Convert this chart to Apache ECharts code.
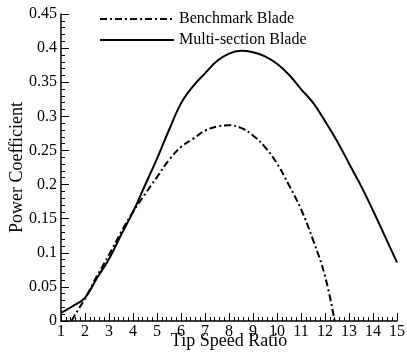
<!DOCTYPE html>
<html>
<head>
<meta charset="utf-8">
<script src="https://cdn.jsdelivr.net/npm/echarts@6/dist/echarts.min.js"></script>
<style>html,body{margin:0;padding:0;background:#fff}#c{width:407px;height:358px}</style>
</head>
<body>
<div id="c"></div>
<script>
var multiX = [1.0,1.5,2.0,2.5,3.0,3.5,4.0,4.5,5.0,5.5,6.0,6.5,7.0,7.5,8.0,8.5,9.0,9.5,10.0,10.5,11.0,11.5,12.0,12.5,13.0,13.5,14.0,14.5,15.0];
var multiY = [0.012,0.022,0.034,0.063,0.091,0.126,0.160,0.199,0.238,0.280,0.319,0.344,0.363,0.381,0.392,0.396,0.394,0.388,0.377,0.361,0.340,0.320,0.293,0.264,0.231,0.198,0.162,0.124,0.086];
var benchX = [1.45,1.5,2.0,2.5,3.0,3.5,4.0,4.5,5.0,5.5,6.0,6.5,7.0,7.5,8.0,8.5,9.0,9.5,10.0,10.5,11.0,11.5,12.0,12.4];
var benchY = [0.0,0.004,0.033,0.066,0.097,0.130,0.160,0.186,0.211,0.236,0.255,0.267,0.279,0.285,0.287,0.283,0.272,0.255,0.231,0.199,0.164,0.119,0.066,0.0];
var seriesNames = ['Benchmark Blade','Multi-section Blade'];
var xName = 'Tip Speed Ratio';
var yName = 'Power Coefficient';

function pairs(xs, ys){ return xs.map(function(x,i){ return [x, ys[i]]; }); }
var font = 'Liberation Serif';
var chart = echarts.init(document.getElementById('c'));
chart.setOption({
  animation: false,
  backgroundColor: '#fff',
  grid: {left: 61, right: 10, top: 14, bottom: 37, containLabel: false, outerBoundsMode: 'none'},
  legend: {
    orient: 'vertical', left: 94, top: 6, itemWidth: 74, itemHeight: 12, itemGap: 5,
    itemStyle: {opacity: 0},
    textStyle: {fontFamily: font, fontSize: 16, color: '#000'},
    data: seriesNames
  },
  xAxis: {
    type: 'value', min: 1, max: 15, interval: 1,
    name: xName, nameLocation: 'middle', nameGap: 11, nameMoveOverlap: false,
    nameTextStyle: {fontFamily: font, fontSize: 18, color: '#000', verticalAlign: 'top'},
    axisLine: {lineStyle: {color: '#000', width: 1.5}},
    axisTick: {inside: true, length: 8, lineStyle: {color: '#000', width: 1}},
    minorTick: {show: true, splitNumber: 5, length: 4, lineStyle: {color: '#000', width: 1}},
    axisLabel: {fontFamily: font, fontSize: 16, color: '#000', margin: 3},
    splitLine: {show: false}
  },
  yAxis: {
    type: 'value', min: 0, max: 0.45, interval: 0.05,
    name: yName, nameLocation: 'middle', nameGap: 35, nameRotate: 90, nameMoveOverlap: false,
    nameTextStyle: {fontFamily: font, fontSize: 18, color: '#000'},
    axisLine: {show: true, lineStyle: {color: '#000', width: 1.5}},
    axisTick: {show: true, inside: true, length: 8, lineStyle: {color: '#000', width: 1}},
    minorTick: {show: true, splitNumber: 5, length: 4, lineStyle: {color: '#000', width: 1}},
    axisLabel: {fontFamily: font, fontSize: 16, color: '#000', margin: 4},
    splitLine: {show: false}
  },
  series: [
    {name: seriesNames[0], type: 'line', data: pairs(benchX, benchY), smooth: 0.4, symbol: 'none',
     lineStyle: {color: '#000', width: 2, type: [7, 3, 2, 3]}, itemStyle: {color: '#000'}},
    {name: seriesNames[1], type: 'line', data: pairs(multiX, multiY), smooth: 0.4, symbol: 'none',
     lineStyle: {color: '#000', width: 2, type: 'solid'}, itemStyle: {color: '#000'}}
  ]
});
</script>
</body>
</html>
